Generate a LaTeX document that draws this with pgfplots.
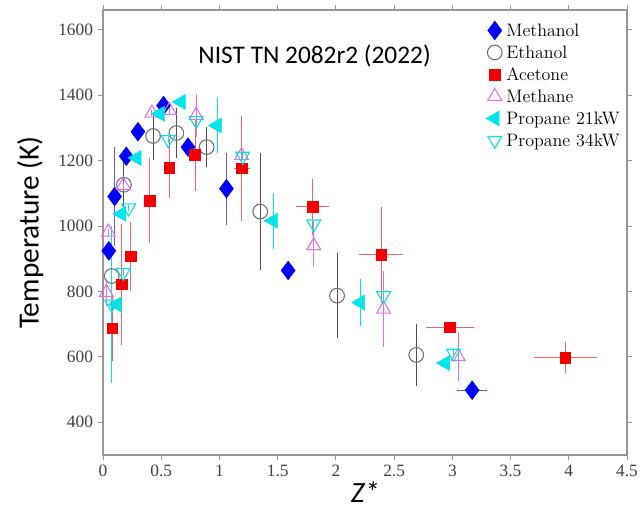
\documentclass[border=0pt]{standalone}
\usepackage{pgfplots}
\pgfplotsset{compat=1.18}
\usepackage{fontspec}
\newfontfamily\carlito{Carlito}
\newfontfamily\timesf{Liberation Serif}
\definecolor{mblue}{RGB}{0,0,250}
\definecolor{mbluebar}{RGB}{90,90,240}
\definecolor{egray}{RGB}{110,110,110}
\definecolor{egraybar}{RGB}{80,80,80}
\definecolor{ared}{RGB}{245,0,0}
\definecolor{aredbar}{RGB}{240,100,100}
\definecolor{mviolet}{RGB}{225,110,240}
\definecolor{pcyan}{RGB}{0,228,235}
\definecolor{axgray}{RGB}{150,150,150}

\pgfplotstableread{
x y ex ey
0.05 924 0 0
0.10 1090 0 140
0.20 1213 0 0
0.30 1288 0 0
0.52 1368 0 0
0.73 1241 0 0
1.06 1114 0 100
1.59 864 0 0
3.17 498 0.10 0
}\methanol

\pgfplotstableread{
x y ex ey
0.075 847 0 0
0.18 1126 0 70
0.43 1275 0 62
0.63 1284 0 65
0.89 1241 0 50
1.35 1044 0 168
2.01 787 0 120
2.69 606 0 85
}\ethanol

\pgfplotstableread{
x y ex ey
0.08 687 0 90
0.16 822 0 175
0.24 907 0 95
0.40 1077 0 120
0.57 1177 0 80
0.79 1217 0 100
1.19 1176 0.04 150
1.80 1059 0.11 75
2.39 912 0.16 137
2.98 690 0.18 0
3.97 598 0.24 36
}\acetone

\pgfplotstableread{
x y ex ey
0.03 797 0 30
0.045 981 0 0
0.175 1124 0 0
0.42 1345 0 0
0.57 1353 0 0
0.80 1338 0 55
1.19 1215 0 0
1.81 940 0 55
2.41 746 0 105
3.05 601 0 65
}\methane

\pgfplotstableread{
x y ex ey
0.12 760 0 0
0.16 1037 0 0
0.29 1208 0 0
0.49 1343 0 0
0.67 1379 0 0
0.98 1307 0 75
1.46 1016 0 75
2.21 766 0 62
2.94 581 0 0
}\propA

\pgfplotstableread{
x y ex ey
0.075 761 0 230
0.175 858 0 0
0.22 1055 0 0
0.56 1264 0 0
0.80 1322 0 0
1.20 1213 0 0
1.81 1006 0 0
2.41 787 0 0
3.01 611 0 0
}\propB

\begin{document}
\begin{tikzpicture}
\begin{axis}[
  scale only axis,
  width=393pt, height=333.75pt,
  xmin=0, xmax=4.5, ymin=300, ymax=1660,
  xtick={0,0.5,1,1.5,2,2.5,3,3.5,4,4.5},
  ytick={400,600,800,1000,1200,1400,1600},
  tick align=outside,
  axis line style={axgray, line width=0.8pt},
  tick style={axgray, line width=0.6pt},
  major tick length=4pt,
  /pgf/number format/assume math mode=true,
  /pgf/number format/1000 sep={},
  ticklabel style={font=\timesf\fontsize{13}{13}\selectfont, text=black!75},
  xlabel={\textit{Z*}},
  ylabel={Temperature (K)},
  xlabel style={font=\carlito\fontsize{22}{22}\selectfont, at={(axis description cs:0.5,-0.083)}, anchor=center},
  ylabel style={font=\carlito\fontsize{22}{22}\selectfont, at={(axis description cs:-0.139,0.5)}, anchor=center},
  legend style={draw=none, fill=none, at={(axis cs:3.24,1640)}, anchor=north west,
    font=\fontsize{13.5}{16}\selectfont, row sep=0pt, column sep=0pt,
    nodes={inner sep=1pt, text height=11.5pt, text depth=3pt}},
  legend cell align=left,
  legend image code/.code={\path (-7.5pt,0pt) (7.5pt,0pt); \draw[#1] plot coordinates {(0pt,0pt)};},
  error bars/y dir=both, error bars/y explicit,
]
\addplot[only marks, mark=diamond*, mark size=7pt, color=mblue,
  error bars/.cd, x dir=both, x explicit,
  error bar style={mbluebar, line width=0.7pt},
  error mark options={mbluebar, mark size=2.5pt, line width=0.7pt}]
  table[x=x, y=y, x error=ex, y error=ey] {\methanol};
\addlegendentry{Methanol}
\addplot[only marks, mark=o, mark size=5.5pt, color=egray, mark options={line width=0.8pt},
  error bars/.cd,
  error bar style={egraybar, line width=0.7pt},
  error mark options={egraybar, mark size=2.5pt, line width=0.7pt}]
  table[x=x, y=y, y error=ey] {\ethanol};
\addlegendentry{Ethanol}
\addplot[only marks, mark=square*, mark size=4pt, color=ared,
  error bars/.cd, x dir=both, x explicit,
  error bar style={aredbar, line width=0.7pt},
  error mark options={aredbar, mark size=2.5pt, line width=0.7pt}]
  table[x=x, y=y, x error=ex, y error=ey] {\acetone};
\addlegendentry{Acetone}
\addplot[only marks, mark=triangle, mark size=6pt, color=mviolet, mark options={line width=0.8pt},
  error bars/.cd,
  error bar style={mviolet, line width=0.7pt},
  error mark options={mviolet, mark size=2.5pt, line width=0.7pt}]
  table[x=x, y=y, y error=ey] {\methane};
\addlegendentry{Methane}
\addplot[only marks, mark=triangle*, mark size=6.5pt, color=pcyan, mark options={rotate=90},
  error bars/.cd,
  error bar style={pcyan, line width=0.7pt},
  error mark options={pcyan, mark size=2.5pt, line width=0.7pt}]
  table[x=x, y=y, y error=ey] {\propA};
\addlegendentry{Propane 21kW}
\addplot[only marks, mark=triangle, mark size=6pt, color=pcyan, mark options={rotate=180, line width=0.8pt},
  error bars/.cd,
  error bar style={pcyan, line width=0.7pt},
  error mark options={pcyan, mark size=2.5pt, line width=0.7pt}]
  table[x=x, y=y, y error=ey] {\propB};
\addlegendentry{Propane 34kW}
\node[font=\carlito\fontsize{19}{19}\selectfont, anchor=center] at (axis cs:1.817,1520) {NIST TN 2082r2 (2022)};
\end{axis}
\pgfresetboundingbox
\path (current axis.south west) ++(-77.25pt,-42.75pt) rectangle ++(480.75pt,384pt);
\end{tikzpicture}
\end{document}
